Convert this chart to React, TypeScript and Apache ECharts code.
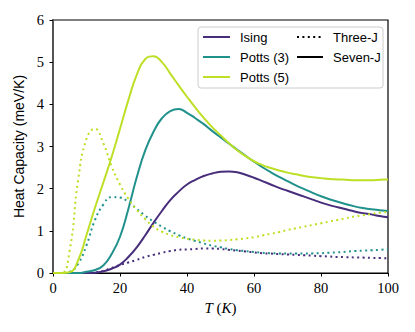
import React, { useEffect, useRef } from "react";
import * as echarts from "echarts";

// Temperature grid (K)
const temps = [0,2.5,5,7.5,10,12.5,15,17.5,20,22.5,25,27.5,30,32.5,35,37.5,40,42.5,45,47.5,50,52.5,55,57.5,60,62.5,65,67.5,70,72.5,75,77.5,80,82.5,85,87.5,90,92.5,95,97.5,100];
// Heat capacity (meV/K), one value per temperature
const isingSeven = [0,0,0,0,0,0.008,0.04,0.1,0.2,0.38,0.61,0.89,1.19,1.47,1.73,1.93,2.1,2.21,2.3,2.36,2.4,2.41,2.39,2.33,2.26,2.18,2.1,2.02,1.95,1.88,1.81,1.74,1.67,1.61,1.56,1.51,1.46,1.42,1.39,1.35,1.32];
const isingThree = [0,0,0,0,0,0.015,0.05,0.12,0.19,0.25,0.31,0.38,0.43,0.48,0.52,0.55,0.56,0.57,0.58,0.58,0.57,0.55,0.53,0.51,0.49,0.47,0.46,0.45,0.44,0.43,0.42,0.41,0.4,0.39,0.38,0.375,0.37,0.365,0.36,0.355,0.35];
const potts3Seven = [0,0,0,0,0.03,0.07,0.18,0.45,0.86,1.52,2.27,2.9,3.35,3.67,3.84,3.89,3.8,3.67,3.53,3.37,3.22,3.07,2.92,2.78,2.64,2.51,2.39,2.28,2.18,2.08,1.99,1.9,1.82,1.75,1.69,1.63,1.58,1.54,1.51,1.49,1.47];
const potts3Three = [0,0,0.03,0.22,0.66,1.25,1.62,1.8,1.79,1.68,1.52,1.36,1.22,1.1,0.99,0.9,0.82,0.76,0.7,0.65,0.61,0.57,0.54,0.52,0.5,0.48,0.47,0.465,0.46,0.46,0.46,0.465,0.47,0.48,0.49,0.505,0.52,0.53,0.54,0.55,0.56];
const potts5Seven = [0,0,0.02,0.3,0.9,1.54,2.14,2.75,3.42,4.1,4.7,5.07,5.14,5.0,4.73,4.45,4.18,3.92,3.68,3.46,3.27,3.08,2.91,2.77,2.65,2.56,2.49,2.43,2.38,2.34,2.3,2.27,2.25,2.23,2.22,2.21,2.2,2.2,2.2,2.21,2.22];
const potts5Three = [0,0,0.55,2.2,3.18,3.42,3.08,2.53,2.1,1.76,1.5,1.28,1.1,0.98,0.9,0.85,0.81,0.79,0.77,0.765,0.77,0.78,0.8,0.82,0.85,0.89,0.93,0.97,1.02,1.06,1.1,1.14,1.18,1.22,1.26,1.3,1.34,1.37,1.4,1.43,1.45];

const modelNames = ["Ising", "Potts (3)", "Potts (5)"];
const couplingNames = ["Three-J", "Seven-J"];
const colors = ["#472d7b", "#21918c", "#bddf26"];

const SANS = "'Liberation Sans', Arial, sans-serif";
const SERIF = "'Liberation Serif', 'Times New Roman', serif";

export default function App() {
  const ref = useRef<HTMLDivElement>(null);
  useEffect(() => {
    if (!ref.current) return;
    const chart = echarts.init(ref.current, null, { renderer: "svg" });
    const mk = (vals: number[], color: string, dotted: boolean) => ({
      type: "line",
      data: temps.map((t, i) => [t, vals[i]]),
      smooth: 0.5,
      showSymbol: false,
      symbol: "none",
      lineStyle: { color, width: 2, type: dotted ? [2, 3.4] : "solid", cap: "butt" },
      z: 3,
    });
    const lx1 = 203, lx2 = 230, tx = 240;
    const cx1 = 297, cx2 = 323, ctx = 333;
    const rows = [37, 57, 77];
    const graphic: any[] = [
      {
        type: "rect",
        z: 100,
        shape: { x: 198, y: 27, width: 185, height: 61, r: 3 },
        style: { fill: "rgba(255,255,255,0.8)", stroke: "#cccccc", lineWidth: 1 },
      },
    ];
    modelNames.forEach((n, i) => {
      graphic.push({
        type: "line", z: 101,
        shape: { x1: lx1, y1: rows[i], x2: lx2, y2: rows[i] },
        style: { stroke: colors[i], lineWidth: 2 },
      });
      graphic.push({
        type: "text", z: 101, x: tx, y: rows[i],
        style: { text: n, fill: "#000", font: `13px ${SANS}`, verticalAlign: "middle", textVerticalAlign: "middle" },
      });
    });
    couplingNames.forEach((n, i) => {
      graphic.push({
        type: "line", z: 101,
        shape: { x1: cx1, y1: rows[i], x2: cx2, y2: rows[i] },
        style: { stroke: "#000", lineWidth: 2, lineDash: i === 0 ? [2, 3.4] : null },
      });
      graphic.push({
        type: "text", z: 101, x: ctx, y: rows[i],
        style: { text: n, fill: "#000", font: `13px ${SANS}`, verticalAlign: "middle", textVerticalAlign: "middle" },
      });
    });
    chart.setOption({
      animation: false,
      grid: {
        left: 53, right: 27, top: 20, bottom: 59,
        show: true, borderColor: "#000", borderWidth: 1.2, backgroundColor: "transparent",
      },
      xAxis: {
        type: "value", min: 0, max: 100, interval: 20,
        name: "{i|T} ({i|K})",
        nameLocation: "middle",
        nameGap: 27,
        nameTextStyle: {
          fontFamily: SERIF, fontSize: 15, color: "#000",
          rich: { i: { fontFamily: SERIF, fontStyle: "italic", fontSize: 15, color: "#000" } },
        },
        axisLine: { show: true, lineStyle: { color: "#000", width: 1.2 } },
        axisTick: { show: true, inside: false, length: 3.5, lineStyle: { color: "#000", width: 1 } },
        axisLabel: { fontFamily: SERIF, fontSize: 14.5, color: "#000", margin: 7 },
        splitLine: { show: false },
      },
      yAxis: {
        type: "value", min: 0, max: 6, interval: 1,
        name: "Heat Capacity (meV/K)",
        nameLocation: "middle",
        nameGap: 24,
        nameTextStyle: { fontFamily: SANS, fontSize: 14, color: "#000" },
        axisLine: { show: true, lineStyle: { color: "#555", width: 2 } },
        axisTick: { show: true, inside: false, length: 3.5, lineStyle: { color: "#000", width: 1 } },
        axisLabel: { fontFamily: SERIF, fontSize: 14.5, color: "#000", margin: 9 },
        splitLine: { show: false },
      },
      series: [
        mk(isingSeven, colors[0], false),
        mk(isingThree, colors[0], true),
        mk(potts3Seven, colors[1], false),
        mk(potts3Three, colors[1], true),
        mk(potts5Seven, colors[2], false),
        mk(potts5Three, colors[2], true),
      ],
      graphic,
    });
    return () => chart.dispose();
  }, []);
  return <div ref={ref} style={{ width: 415, height: 332, position: "absolute", left: 0, top: 0 }} />;
}
